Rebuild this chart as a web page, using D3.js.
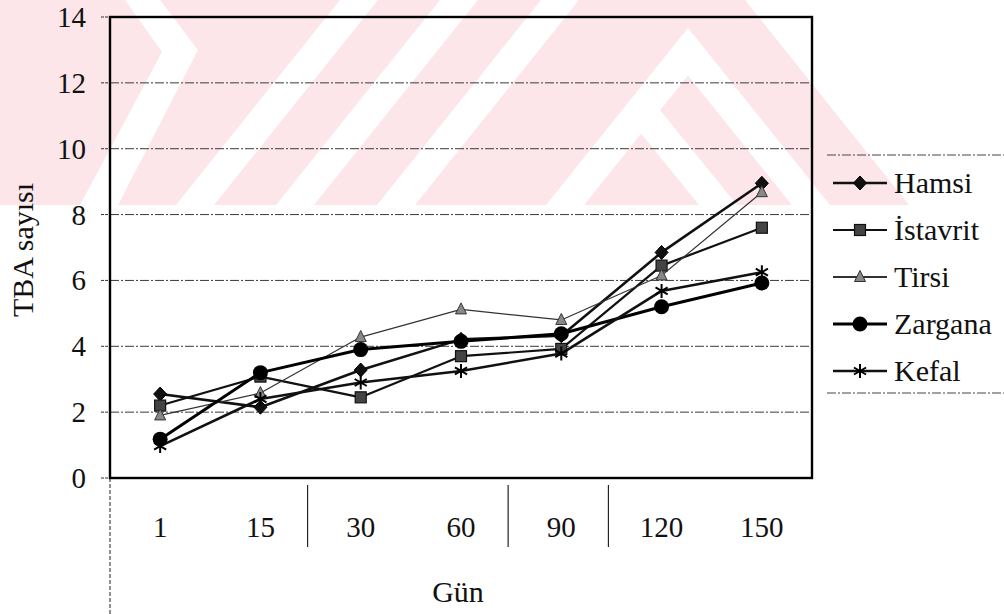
<!DOCTYPE html>
<html>
<head>
<meta charset="utf-8">
<script src="https://cdn.jsdelivr.net/npm/d3@7"></script>
<style>
  html, body { margin: 0; padding: 0; background: #fff; }
  svg { display: block; }
</style>
</head>
<body>
<svg id="chart" width="1004" height="614"></svg>
<script>
// Storage days (x categories)
const days = ["1", "15", "30", "60", "90", "120", "150"];

// TBA values per fish species
const hamsi    = [2.55, 2.15, 3.28, 4.21, 4.32, 6.85, 8.95];
const istavrit = [2.20, 3.08, 2.45, 3.70, 3.92, 6.45, 7.60];
const tirsi    = [1.90, 2.58, 4.28, 5.12, 4.80, 6.15, 8.68];
const zargana  = [1.18, 3.20, 3.90, 4.15, 4.38, 5.20, 5.92];
const kefal    = [0.97, 2.40, 2.90, 3.25, 3.78, 5.68, 6.25];

const seriesNames = ["Hamsi", "İstavrit", "Tirsi", "Zargana", "Kefal"];
const yTicks = [0, 2, 4, 6, 8, 10, 12, 14];
const yLabel = "TBA sayısı";
const xLabel = "Gün";

const FONT = "'Liberation Serif', 'Times New Roman', Times, 'DejaVu Serif', serif";

const series = [
  { name: seriesNames[0], values: hamsi,    marker: "diamond",  width: 2.6, color: "#111" },
  { name: seriesNames[1], values: istavrit, marker: "square",   width: 2.2, color: "#111" },
  { name: seriesNames[2], values: tirsi,    marker: "triangle", width: 1.2, color: "#333" },
  { name: seriesNames[3], values: zargana,  marker: "circle",   width: 3.0, color: "#000" },
  { name: seriesNames[4], values: kefal,    marker: "asterisk", width: 2.6, color: "#111" }
];

const svg = d3.select("#chart")
  .attr("font-family", FONT)
  .style("font-family", FONT);
const plot = { left: 110, right: 812, top: 17, bottom: 478 };

const x = d3.scaleBand().domain(days).range([plot.left, plot.right]).paddingInner(0).paddingOuter(0);
const y = d3.scaleLinear().domain([0, 14]).range([plot.bottom, plot.top]);
const cx = d => x(d) + x.bandwidth() / 2;

// Pale diagonal background band across the top of the page
const band = svg.append("g");
band.append("polygon")
  .attr("points", [[0,0],[745,0],[909,205],[0,205]].map(p => p.join(",")).join(" "))
  .attr("fill", "#fce6ea");
const gaps = [
  [[80,205],[118,205],[198,50],[160,0],[125,0],[162,52]],
  ...[340, 440, 541].map(c => [[c-164,205],[c-126,205],[c+38,0],[c,0]]),
  [[546,205],[688,28],[830,205],[792,205],[688,75.5],[584,205]],
  [[622,110],[660,110],[737,205],[699,205]]
];
band.selectAll("polygon.gap").data(gaps).join("polygon")
  .attr("class", "gap")
  .attr("points", d => d.map(p => p.join(",")).join(" "))
  .attr("fill", "#fff");

// Horizontal gridlines
svg.append("g").selectAll("line").data(yTicks.filter(t => t > 0 && t < 14)).join("line")
  .attr("x1", plot.left).attr("x2", plot.right)
  .attr("y1", d => y(d)).attr("y2", d => y(d))
  .attr("stroke", "#3a3a3a").attr("stroke-width", 1)
  .attr("stroke-dasharray", "9,2,2,2");

// Y axis ticks and labels
const yAxis = svg.append("g");
yAxis.selectAll("line").data(yTicks).join("line")
  .attr("x1", plot.left - 9).attr("x2", plot.left)
  .attr("y1", d => y(d)).attr("y2", d => y(d))
  .attr("stroke", "#333").attr("stroke-width", 1)
  .attr("stroke-dasharray", "3,1");
yAxis.selectAll("text").data(yTicks).join("text")
  .attr("x", 86).attr("y", d => y(d) + 10)
  .attr("text-anchor", "end")
  .attr("font-family", FONT)
  .attr("font-size", 29)
  .attr("fill", "#111")
  .text(d => d);

// Category separators below the axis
const sepAfter = ["15", "60", "90"];
svg.append("g").selectAll("line").data(sepAfter).join("line")
  .attr("x1", d => x(d) + x.bandwidth() - 3).attr("x2", d => x(d) + x.bandwidth() - 3)
  .attr("y1", plot.bottom + 7).attr("y2", plot.bottom + 69)
  .attr("stroke", "#222").attr("stroke-width", 1.2);
svg.append("line")
  .attr("x1", plot.left).attr("x2", plot.left)
  .attr("y1", plot.bottom).attr("y2", 614)
  .attr("stroke", "#555").attr("stroke-width", 1.3)
  .attr("stroke-dasharray", "4,2");

// X tick labels
svg.append("g").selectAll("text").data(days).join("text")
  .attr("x", d => cx(d)).attr("y", 537)
  .attr("text-anchor", "middle")
  .attr("font-family", FONT)
  .attr("font-size", 29)
  .attr("fill", "#111")
  .text(d => d);

// Axis titles
svg.append("text")
  .attr("x", 458).attr("y", 602)
  .attr("text-anchor", "middle")
  .attr("font-family", FONT)
  .attr("font-size", 30)
  .attr("fill", "#111")
  .text(xLabel);
svg.append("text")
  .attr("transform", "translate(33,250) rotate(-90)")
  .attr("text-anchor", "middle")
  .attr("font-family", FONT)
  .attr("font-size", 30)
  .attr("fill", "#111")
  .text(yLabel);

// Plot frame
svg.append("rect")
  .attr("x", plot.left).attr("y", plot.top)
  .attr("width", plot.right - plot.left).attr("height", plot.bottom - plot.top)
  .attr("fill", "none").attr("stroke", "#000").attr("stroke-width", 2.4);

// Marker drawing
function drawMarker(g, type, px, py, scale = 1) {
  const s = scale;
  if (type === "diamond") {
    g.append("path")
      .attr("d", `M${px},${py - 7*s}L${px + 6.5*s},${py}L${px},${py + 7*s}L${px - 6.5*s},${py}Z`)
      .attr("fill", "#111").attr("stroke", "#000").attr("stroke-width", 1);
  } else if (type === "square") {
    g.append("rect")
      .attr("x", px - 5.5*s).attr("y", py - 5.5*s)
      .attr("width", 11*s).attr("height", 11*s)
      .attr("fill", "#444").attr("stroke", "#111").attr("stroke-width", 1.2);
  } else if (type === "triangle") {
    g.append("path")
      .attr("d", `M${px},${py - 6.5*s}L${px + 5.5*s},${py + 4.5*s}L${px - 5.5*s},${py + 4.5*s}Z`)
      .attr("fill", "#888").attr("stroke", "#333").attr("stroke-width", 1);
  } else if (type === "circle") {
    g.append("circle")
      .attr("cx", px).attr("cy", py).attr("r", 7.5*s)
      .attr("fill", "#000");
  } else if (type === "asterisk") {
    const r = 7*s;
    const a = r * Math.cos(Math.PI / 6), b = r * Math.sin(Math.PI / 6);
    g.append("path")
      .attr("d", `M${px},${py - r}L${px},${py + r}M${px - a},${py - b}L${px + a},${py + b}M${px - a},${py + b}L${px + a},${py - b}`)
      .attr("stroke", "#000").attr("stroke-width", 2).attr("fill", "none");
  }
}

// Series lines and markers
const line = d3.line().x((d, i) => cx(days[i])).y(d => y(d));
series.forEach(s => {
  const g = svg.append("g");
  g.append("path")
    .attr("d", line(s.values))
    .attr("fill", "none")
    .attr("stroke", s.color)
    .attr("stroke-width", s.width)
    .attr("stroke-linejoin", "round");
  s.values.forEach((v, i) => drawMarker(g, s.marker, cx(days[i]), y(v)));
});

// Legend
const legend = svg.append("g");
const legTop = 155, legBottom = 393;
[legTop, legBottom].forEach(ly => {
  legend.append("line")
    .attr("x1", 827).attr("x2", 1004).attr("y1", ly).attr("y2", ly)
    .attr("stroke", "#444").attr("stroke-width", 1)
    .attr("stroke-dasharray", "9,2,2,2");
});
const legY = d3.scalePoint().domain(seriesNames).range([183, 371]);
series.forEach(s => {
  const ly = legY(s.name);
  legend.append("line")
    .attr("x1", 833).attr("x2", 887).attr("y1", ly).attr("y2", ly)
    .attr("stroke", s.color).attr("stroke-width", Math.max(s.width, 1.8));
  drawMarker(legend, s.marker, 860, ly);
  legend.append("text")
    .attr("x", 894).attr("y", ly + 10)
    .attr("font-family", FONT)
    .attr("font-size", 30)
    .attr("fill", "#111")
    .text(s.name);
});
</script>
</body>
</html>
